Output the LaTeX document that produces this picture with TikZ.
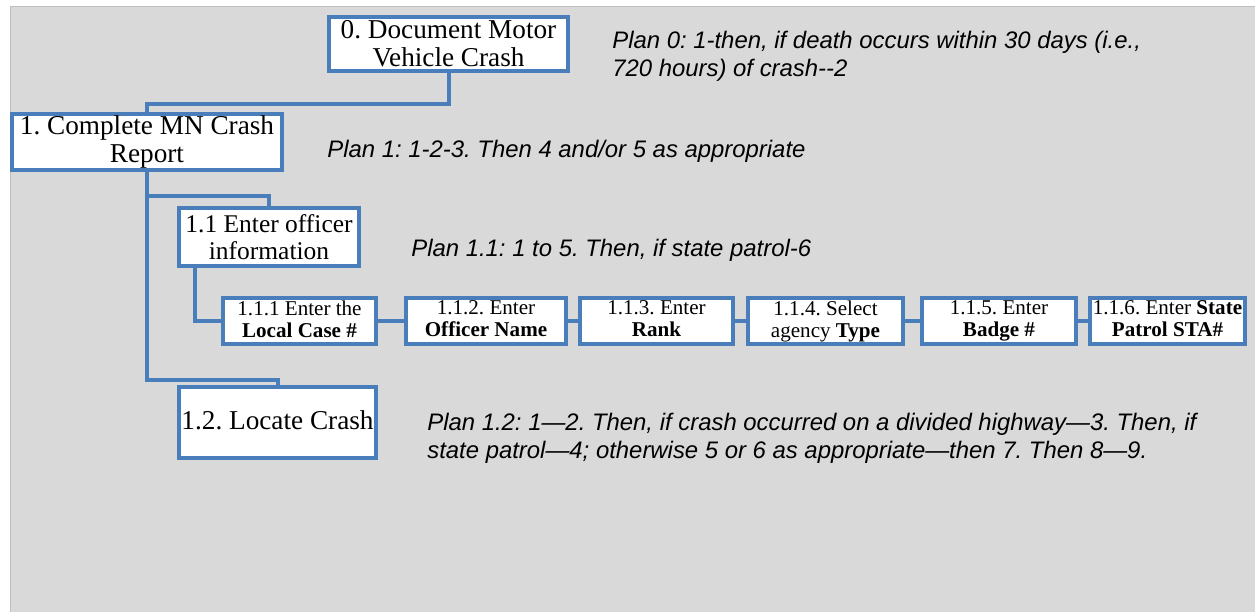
\documentclass[tikz,border=0pt]{standalone}
\usepackage{fontspec}
\setmainfont{Liberation Serif}
\newfontfamily\plansans{Liberation Sans}
\frenchspacing

\definecolor{taskblue}{HTML}{4A7EBB}
\definecolor{sheetgray}{HTML}{D9D9D9}
\definecolor{sheetedge}{HTML}{BFBFBF}

\begin{document}
\begin{tikzpicture}[x=0.02cm,y=-0.02cm,
  task node/.style={draw=taskblue,line width=0.08cm,fill=white,inner sep=0pt,align=center,
    font=\fontsize{15.5}{16}\selectfont},
  sub node/.style={task node,minimum height=0.92cm,font=\fontsize{12}{12.5}\selectfont},
  plan/.style={anchor=west,align=left,inner sep=0pt,font=\plansans\itshape\fontsize{13.6}{16}\selectfont},
  link/.style={draw=taskblue,line width=0.08cm}]

  \useasboundingbox (0,0) rectangle (1255,612);
  \draw[sheetedge,fill=sheetgray] (10,6) rectangle (1256,613);

  \node[task node,minimum width=4.78cm,minimum height=1.08cm] (t0) at (448.5,44) {0. Document Motor\\Vehicle Crash};
  \node[task node,minimum width=5.40cm,minimum height=1.12cm] (t1) at (147,142) {1. Complete MN Crash\\Report};
  \node[task node,minimum width=3.60cm,minimum height=1.16cm,font=\fontsize{14.5}{15.5}\selectfont] (t11) at (269,237) {1.1 Enter officer\\information};
  \node[task node,minimum width=3.94cm,minimum height=1.42cm] (t12) at (277.5,422.5) {1.2. Locate Crash\vphantom{g}};

  \node[sub node,minimum width=3.06cm] (t111) at (299.5,321) {1.1.1 Enter the\\\textbf{Local Case \#}\vphantom{g}};
  \node[sub node,minimum width=3.20cm] (t112) at (486,321) {1.1.2. Enter\\\textbf{Officer Name}\vphantom{g}};
  \node[sub node,minimum width=3.06cm] (t113) at (656.5,321) {1.1.3. Enter\\\textbf{Rank}\vphantom{g}};
  \node[sub node,minimum width=3.10cm] (t114) at (825.5,321) {1.1.4. Select\\agency \textbf{Type}};
  \node[sub node,minimum width=3.08cm] (t115) at (999,321) {1.1.5. Enter\\\textbf{Badge \#}};
  \node[sub node,minimum width=3.10cm] (t116) at (1167.5,321) {1.1.6. Enter \textbf{State}\\\textbf{Patrol STA\#}\vphantom{g}};

  \node[plan] (p0) at (612,56) {Plan 0: 1-then, if death occurs within 30 days (i.e.,\\720 hours) of crash--2};
  \node[plan] (p1) at (327,151) {Plan 1: 1-2-3. Then 4 and/or 5 as appropriate};
  \node[plan] (p11) at (411,250) {Plan 1.1: 1 to 5. Then, if state patrol-6};
  \node[plan] (p12) at (427,438.5) {Plan 1.2: 1—2. Then, if crash occurred on a divided highway—3. Then, if\\state patrol—4; otherwise 5 or 6 as appropriate—then 7. Then 8—9.};

  \draw[link] (t0.south) -- ++(0,31) -| (t1.north);
  \draw[link] (t1.south) -- ++(0,24) -| (t11.north);
  \draw[link] (t1.south) -- ++(0,208) -| (t12.north);
  \draw[link] ([xshift=-1.48cm]t11.south) |- (t111.west);

  \path[link]
    (t111) edge (t112)
    (t112) edge (t113)
    (t113) edge (t114)
    (t114) edge (t115)
    (t115) edge (t116);

\end{tikzpicture}
\end{document}
